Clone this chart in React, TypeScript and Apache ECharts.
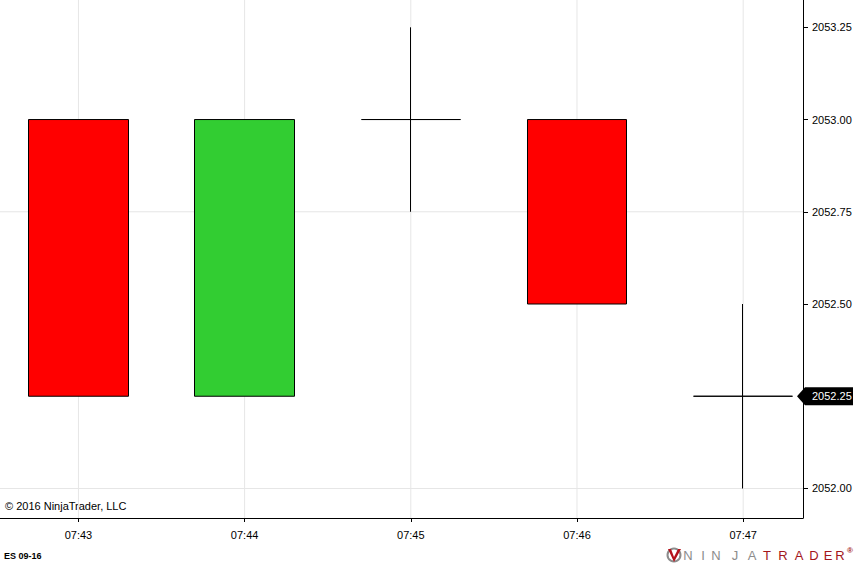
import React, { useEffect, useRef } from "react";
import * as echarts from "echarts";

const times = ["07:43", "07:44", "07:45", "07:46", "07:47"];
const opens = [2053.0, 2052.25, 2053.0, 2053.0, 2052.25];
const closes = [2052.25, 2053.0, 2053.0, 2052.5, 2052.25];
const lows = [2052.25, 2052.25, 2052.75, 2052.5, 2052.0];
const highs = [2053.0, 2053.0, 2053.25, 2053.0, 2052.5];
const priceTicks = [2052.0, 2052.25, 2052.5, 2052.75, 2053.0, 2053.25];
const gridPrices = [2052.0, 2052.75];
const lastPrice = closes[closes.length - 1];

const FONT = "'Liberation Sans', Arial, sans-serif";
const GRID_COLOR = "#e6e6e6";

export default function App() {
  const ref = useRef<HTMLDivElement>(null);
  useEffect(() => {
    if (!ref.current) return;
    const chart = echarts.init(ref.current, undefined, { renderer: "svg" });
    const idx = times.map((_, i) => i);
    const candleData = idx.map((i) => [i, opens[i], closes[i], lows[i], highs[i]]);

    chart.setOption({
      animation: false,
      backgroundColor: "#ffffff",
      grid: { left: 0, top: 0, right: 52, bottom: 48 },
      xAxis: {
        type: "value",
        min: -0.472,
        max: 4.36,
        minInterval: 1,
        maxInterval: 1,
        axisLine: { show: true, onZero: false, lineStyle: { color: "#000", width: 1 } },
        axisTick: { show: true, length: 4, lineStyle: { color: "#000" }, customValues: idx },
        axisLabel: {
          customValues: idx,
          formatter: (v: number) => times[Math.round(v)] ?? "",
          color: "#000",
          fontFamily: FONT,
          fontSize: 11,
          margin: 11,
        },
        splitLine: { show: false },
      },
      yAxis: {
        type: "value",
        position: "right",
        min: 2051.92,
        max: 2053.324,
        minInterval: 0.25,
        maxInterval: 0.25,
        axisLine: { show: true, onZero: false, lineStyle: { color: "#000", width: 1 } },
        axisTick: { show: true, length: 5, lineStyle: { color: "#000" }, customValues: priceTicks },
        axisLabel: {
          customValues: priceTicks,
          formatter: (v: number) => v.toFixed(2),
          color: "#000",
          fontFamily: FONT,
          fontSize: 11,
          margin: 9,
        },
        splitLine: { show: false },
      },
      series: [
        {
          type: "custom",
          z: 1,
          silent: true,
          data: idx.map((i) => [i]),
          encode: { x: 0 },
          renderItem: (params: any, api: any) => {
            const cs = params.coordSys;
            const x = api.coord([api.value(0), 2052.5])[0];
            return {
              type: "line",
              shape: { x1: x, y1: cs.y, x2: x, y2: cs.y + cs.height },
              style: { stroke: GRID_COLOR, lineWidth: 1 },
            };
          },
        },
        {
          type: "custom",
          z: 1,
          silent: true,
          data: gridPrices.map((p) => [0, p]),
          encode: { x: 0, y: 1 },
          renderItem: (params: any, api: any) => {
            const cs = params.coordSys;
            const y = api.coord([0, api.value(1)])[1];
            return {
              type: "line",
              shape: { x1: cs.x, y1: y, x2: cs.x + cs.width, y2: y },
              style: { stroke: GRID_COLOR, lineWidth: 1 },
            };
          },
        },
        {
          type: "candlestick",
          z: 3,
          barWidth: 100,
          encode: { x: 0, y: [1, 2, 3, 4] },
          data: candleData,
          itemStyle: {
            color: "#32CD32",
            color0: "#FF0000",
            borderColor: "#000",
            borderColor0: "#000",
            borderColorDoji: "#000",
            borderWidth: 1,
          },
        },
      ],
    });

    const py = chart.convertToPixel({ yAxisIndex: 0 }, lastPrice) as number;
    const logoLettersA = ["N", "I", "N", "J", "A"];
    const logoXA = [688, 703, 716, 735, 752];
    const logoLettersB = ["T", "R", "A", "D", "E", "R"];
    const logoXB = [773, 789, 805, 820, 834, 846];
    chart.setOption({
      graphic: [
        {
          type: "polygon",
          shape: {
            points: [
              [797, py],
              [805, py - 9],
              [853, py - 9],
              [853, py + 9],
              [805, py + 9],
            ],
          },
          style: { fill: "#000" },
          z: 10,
        },
        {
          type: "text",
          x: 812,
          y: py,
          z: 11,
          style: {
            text: lastPrice.toFixed(2),
            fill: "#fff",
            font: `11px ${FONT}`,
            verticalAlign: "middle",
          },
        },
        {
          type: "text",
          x: 5,
          y: 506,
          style: {
            text: "© 2016 NinjaTrader, LLC",
            fill: "#000",
            font: `11px ${FONT}`,
            verticalAlign: "middle",
          },
        },
        {
          type: "text",
          x: 4,
          y: 556,
          style: {
            text: "ES 09-16",
            fill: "#000",
            font: `bold 9px ${FONT}`,
            verticalAlign: "middle",
          },
        },
        {
          type: "circle",
          shape: { cx: 674, cy: 555, r: 6.5 },
          style: { fill: "none", stroke: "#8c8c8c", lineWidth: 2 },
        },
        {
          type: "polygon",
          shape: { points: [[668, 549], [674, 562], [681, 549], [678, 549], [674, 557], [671, 549]] },
          style: { fill: "#b5121b" },
        },
        ...logoLettersA.map((ch, i) => ({
          type: "text",
          x: logoXA[i],
          y: 555,
          style: {
            text: ch,
            fill: "#8c8c8c",
            font: `13px ${FONT}`,
            align: "center",
            verticalAlign: "middle",
          },
        })),
        ...logoLettersB.map((ch, i) => ({
          type: "text",
          x: logoXB[i] - 6,
          y: 555,
          style: {
            text: ch,
            fill: "#a3161c",
            font: `13px ${FONT}`,
            align: "center",
            verticalAlign: "middle",
          },
        })),
        {
          type: "text",
          x: 847,
          y: 550,
          style: {
            text: "®",
            fill: "#a3161c",
            font: `bold 8px ${FONT}`,
            verticalAlign: "middle",
          },
        },
      ],
    });

    return () => chart.dispose();
  }, []);

  return (
    <div
      ref={ref}
      style={{ position: "fixed", left: 0, top: 0, width: 855, height: 566 }}
    />
  );
}
